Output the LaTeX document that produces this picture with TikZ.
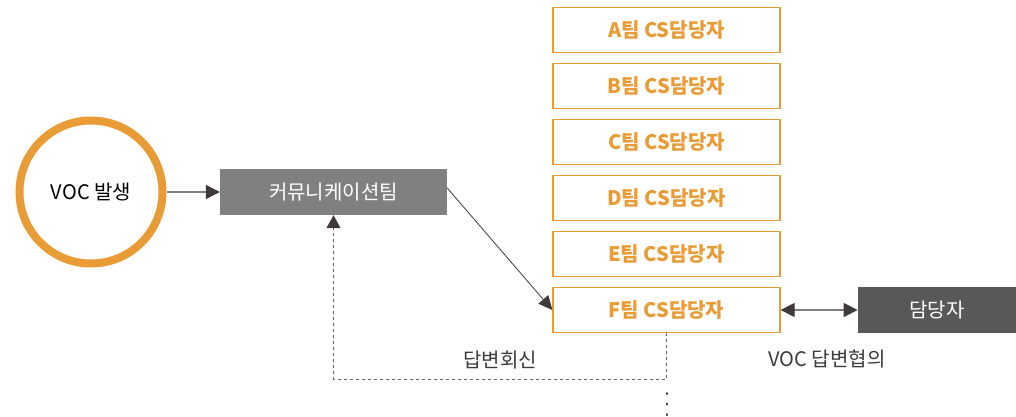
\documentclass[tikz,border=0pt]{standalone}
\usepackage{fontspec}
\setmainfont{Noto Sans CJK KR}
\usepackage{tikz}
\usetikzlibrary{arrows.meta,positioning,shapes.geometric,calc}
\definecolor{CSorange}{HTML}{E99C36}
\definecolor{CSgray}{HTML}{808080}
\definecolor{CSdark}{HTML}{595757}
\definecolor{CSline}{HTML}{3E3A39}
\tikzset{
  lbl/.style={font=\fontsize{20pt}{22pt}\selectfont, inner sep=0pt},
  voc/.style={lbl, draw=CSorange, circle, line width=8pt, minimum size=143pt, text=black},
  comm/.style={lbl, fill=CSgray, text=white, minimum width=227pt, minimum height=46pt},
  team/.style={lbl, draw=CSorange, line width=1.2pt, text=CSorange, minimum width=227pt, minimum height=45pt, font=\fontsize{20pt}{22pt}\selectfont\bfseries},
  staff/.style={lbl, fill=CSdark, text=white, minimum width=158pt, minimum height=46pt},
  note/.style={lbl, text=CSline},
  arr/.style={-{Triangle[length=14pt, width=14pt, color=CSline]}, CSgray, line width=1.2pt},
  darr/.style={{Triangle[length=14pt, width=14pt, color=CSline]}-{Triangle[length=14pt, width=14pt, color=CSline]}, CSgray, line width=1.2pt},
  diag/.style={-{Triangle[length=14pt, width=13pt]}, CSline, line width=0.8pt},
  ret/.style={-{Triangle[length=13pt, width=14pt, color=CSline]}, CSline!80, line width=1pt, dash pattern=on 3pt off 3pt},
  dots/.style={CSline, line width=2pt, line cap=round, dash pattern=on 1pt off 9.5pt}
}
\begin{document}
\begin{tikzpicture}[x=1pt, y=-1pt, node distance=9.8pt]
\useasboundingbox (0,0) rectangle (1016,417);
\node[voc] (voc) at (91,192) {VOC 발생};
\node[comm] (comm) at (333.5,192) {커뮤니케이션팀};
\node[team] (ta) at (666.5,30) {A팀 CS담당자};
\node[team, below=of ta] (tb) {B팀 CS담당자};
\node[team, below=of tb] (tc) {C팀 CS담당자};
\node[team, below=of tc] (td) {D팀 CS담당자};
\node[team, below=of td] (te) {E팀 CS담당자};
\node[team, below=of te] (tf) {F팀 CS담당자};
\node[staff, right=77pt of tf] (staff) {담당자};
\node[note] (reply) at (500,360) {답변회신};
\node[note] (talk) at (827,359) {VOC 답변협의};
\draw[arr] (voc) -- (comm);
\draw[diag] ([yshift=4pt]comm.east) -- (tf.west);
\draw[darr] (tf) -- (staff);
% return path to the communication team
\coordinate (turn) at ([yshift=-46pt]tf.south);
\draw[ret] (tf.south) -- (turn) -- (turn -| comm.south) -- (comm.south);
\draw[dots] ([yshift=-14pt]turn) -- ++(0,23);
\end{tikzpicture}
\end{document}
